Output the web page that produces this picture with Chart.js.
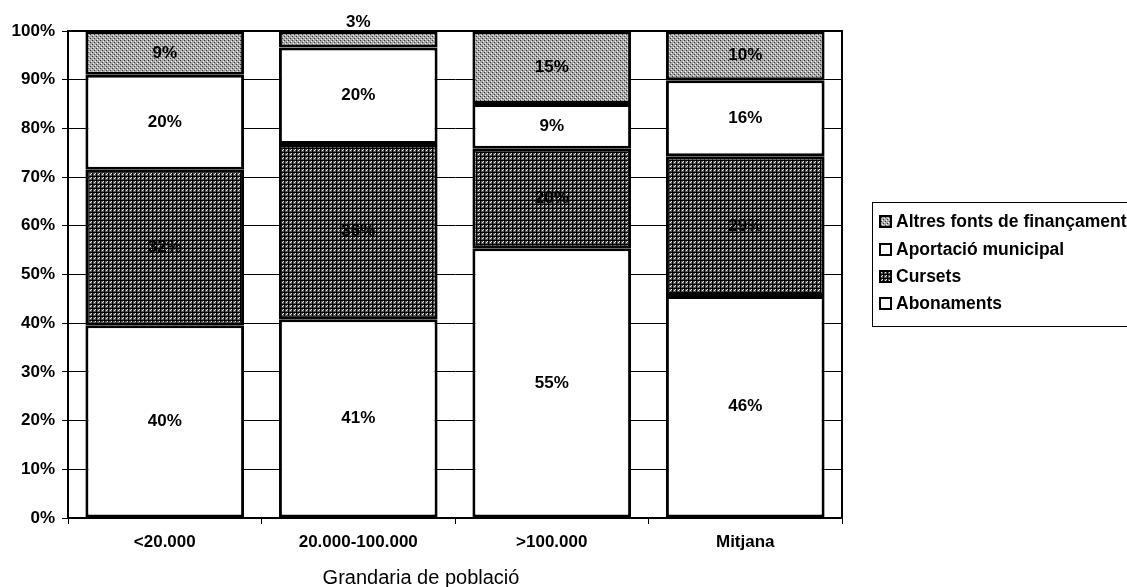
<!DOCTYPE html>
<html>
<head>
<meta charset="utf-8">
<script src="https://cdn.jsdelivr.net/npm/chart.js@4.4.1/dist/chart.umd.min.js"></script>
<style>
  html, body { margin:0; padding:0; background:#fff; }
  #wrap { position:relative; width:1127px; height:587px; overflow:hidden; font-family:"Liberation Sans", Arial, sans-serif; }
  #chart { position:absolute; left:0; top:0; }
  #legend { position:absolute; left:872px; top:202px; width:300px; height:125px; border:1px solid #000; box-sizing:border-box; }
  .lg-row { position:absolute; left:6px; height:20px; display:flex; align-items:center; font-size:17.5px; font-weight:bold; color:#000; white-space:nowrap; }
  .lg-row canvas { width:13px; height:13px; margin-right:4px; }
  #xtitle { position:absolute; left:0; width:842px; top:566px; text-align:center; font-size:20px; color:#000; }
</style>
</head>
<body>
<div id="wrap">
  <canvas id="chart" width="1127" height="587"></canvas>
  <div id="legend"></div>
  <div id="xtitle">Grandaria de població</div>
</div>
<script>
/* Finançament per grandària de població — 100% stacked bars */

var categories = ['<20.000', '20.000-100.000', '>100.000', 'Mitjana'];
var seriesNames = ['Abonaments', 'Cursets', 'Aportació municipal', 'Altres fonts de finançament'];
var abonaments = [39.6, 40.8, 55.4, 45.6];
var cursets    = [31.9, 36.0, 20.4, 28.7];
var aportacio  = [19.5, 19.8, 9.2, 15.6];
var altres     = [9.0, 3.4, 15.0, 10.1];
var yTicks     = [0, 10, 20, 30, 40, 50, 60, 70, 80, 90, 100];

var FONT = '"Liberation Sans", Arial, sans-serif';

// dithered grey fills like the scanned original
function makePattern(kind){
  var c = document.createElement('canvas');
  c.width = 4; c.height = 4;
  var g = c.getContext('2d');
  if(kind === 'white'){
    g.fillStyle = '#fff'; g.fillRect(0,0,4,4);
  } else if(kind === 'dark'){
    g.fillStyle = '#555'; g.fillRect(0,0,4,4);
    g.fillStyle = '#000';
    g.fillRect(0,0,4,1); g.fillRect(0,0,1,4);
    g.fillStyle = '#eee';
    g.fillRect(2,2,1,1); g.fillRect(3,1,1,1);
  } else {
    g.fillStyle = '#a8a8a8'; g.fillRect(0,0,4,4);
    g.fillStyle = '#333';
    g.fillRect(0,0,1,1); g.fillRect(2,2,1,1);
    g.fillStyle = '#f2f2f2';
    g.fillRect(1,3,1,1); g.fillRect(3,1,1,1);
  }
  return c;
}
var tiles = [makePattern('white'), makePattern('dark'), makePattern('white'), makePattern('light')];
var ctx = document.getElementById('chart').getContext('2d');
var fills = tiles.map(function(t){ return ctx.createPattern(t, 'repeat'); });
var seriesData = [abonaments, cursets, aportacio, altres];

// HTML legend (top series first, like the original)
var legend = document.getElementById('legend');
var rowTops = [8, 36, 63, 90];
for(var i=3, r=0; i>=0; i--, r++){
  var row = document.createElement('div');
  row.className = 'lg-row';
  row.style.top = rowTops[r] + 'px';
  var sw = document.createElement('canvas');
  sw.width = 13; sw.height = 13;
  var sg = sw.getContext('2d');
  sg.fillStyle = sg.createPattern(tiles[i], 'repeat');
  sg.fillRect(0,0,13,13);
  sg.lineWidth = 2; sg.strokeStyle = '#000';
  sg.strokeRect(1,1,11,11);
  row.appendChild(sw);
  row.appendChild(document.createTextNode(seriesNames[i]));
  legend.appendChild(row);
}

var valueLabels = {
  id: 'valueLabels',
  afterDatasetsDraw: function(chart){
    var c = chart.ctx;
    c.save();
    c.font = 'bold 17px ' + FONT;
    c.fillStyle = '#000';
    c.textAlign = 'center';
    c.textBaseline = 'middle';
    chart.data.datasets.forEach(function(ds, di){
      chart.getDatasetMeta(di).data.forEach(function(el, j){
        var txt = Math.round(ds.data[j]) + '%';
        var h = el.base - el.y;
        var y = (el.y + el.base) / 2;
        if(h < 20) y = el.y - 9;
        c.fillText(txt, el.x, y);
      });
    });
    c.restore();
  }
};

var plotFrame = {
  id: 'plotFrame',
  afterDatasetsDraw: function(chart){
    var a = chart.chartArea, c = chart.ctx;
    c.save();
    c.strokeStyle = '#000';
    c.lineWidth = 2;
    c.beginPath();
    c.moveTo(a.left, a.top); c.lineTo(a.right, a.top); c.lineTo(a.right, a.bottom);
    c.stroke();
    c.restore();
  }
};

new Chart(ctx, {
  type: 'bar',
  data: {
    labels: categories,
    datasets: seriesNames.map(function(n, i){
      return {
        label: n,
        data: seriesData[i],
        backgroundColor: fills[i],
        borderColor: '#000',
        borderWidth: 3,
        borderSkipped: false,
        categoryPercentage: 1,
        barPercentage: 0.82
      };
    })
  },
  options: {
    responsive: false,
    animation: false,
    layout: { padding: { top: 31, right: 285, bottom: 0, left: 0 } },
    plugins: { legend: { display: false }, tooltip: { enabled: false } },
    scales: {
      x: {
        stacked: true,
        afterFit: function(s){ s.height = 69; },
        border: { color: '#000', width: 2 },
        grid: { offset: true, drawOnChartArea: false, drawTicks: true, tickLength: 6, color: '#000' },
        ticks: { color: '#000', padding: 8, font: { family: FONT, size: 17, weight: 'bold' } }
      },
      y: {
        stacked: true,
        min: 0, max: 100,
        afterFit: function(s){ s.width = 68; },
        afterBuildTicks: function(s){ s.ticks = yTicks.map(function(v){ return { value: v }; }); },
        border: { color: '#000', width: 2 },
        grid: { color: '#000', lineWidth: 1, tickLength: 6 },
        ticks: { color: '#000', padding: 7, font: { family: FONT, size: 17, weight: 'bold' },
                 callback: function(v){ return v + '%'; } }
      }
    }
  },
  plugins: [valueLabels, plotFrame]
});
</script>
</body>
</html>
